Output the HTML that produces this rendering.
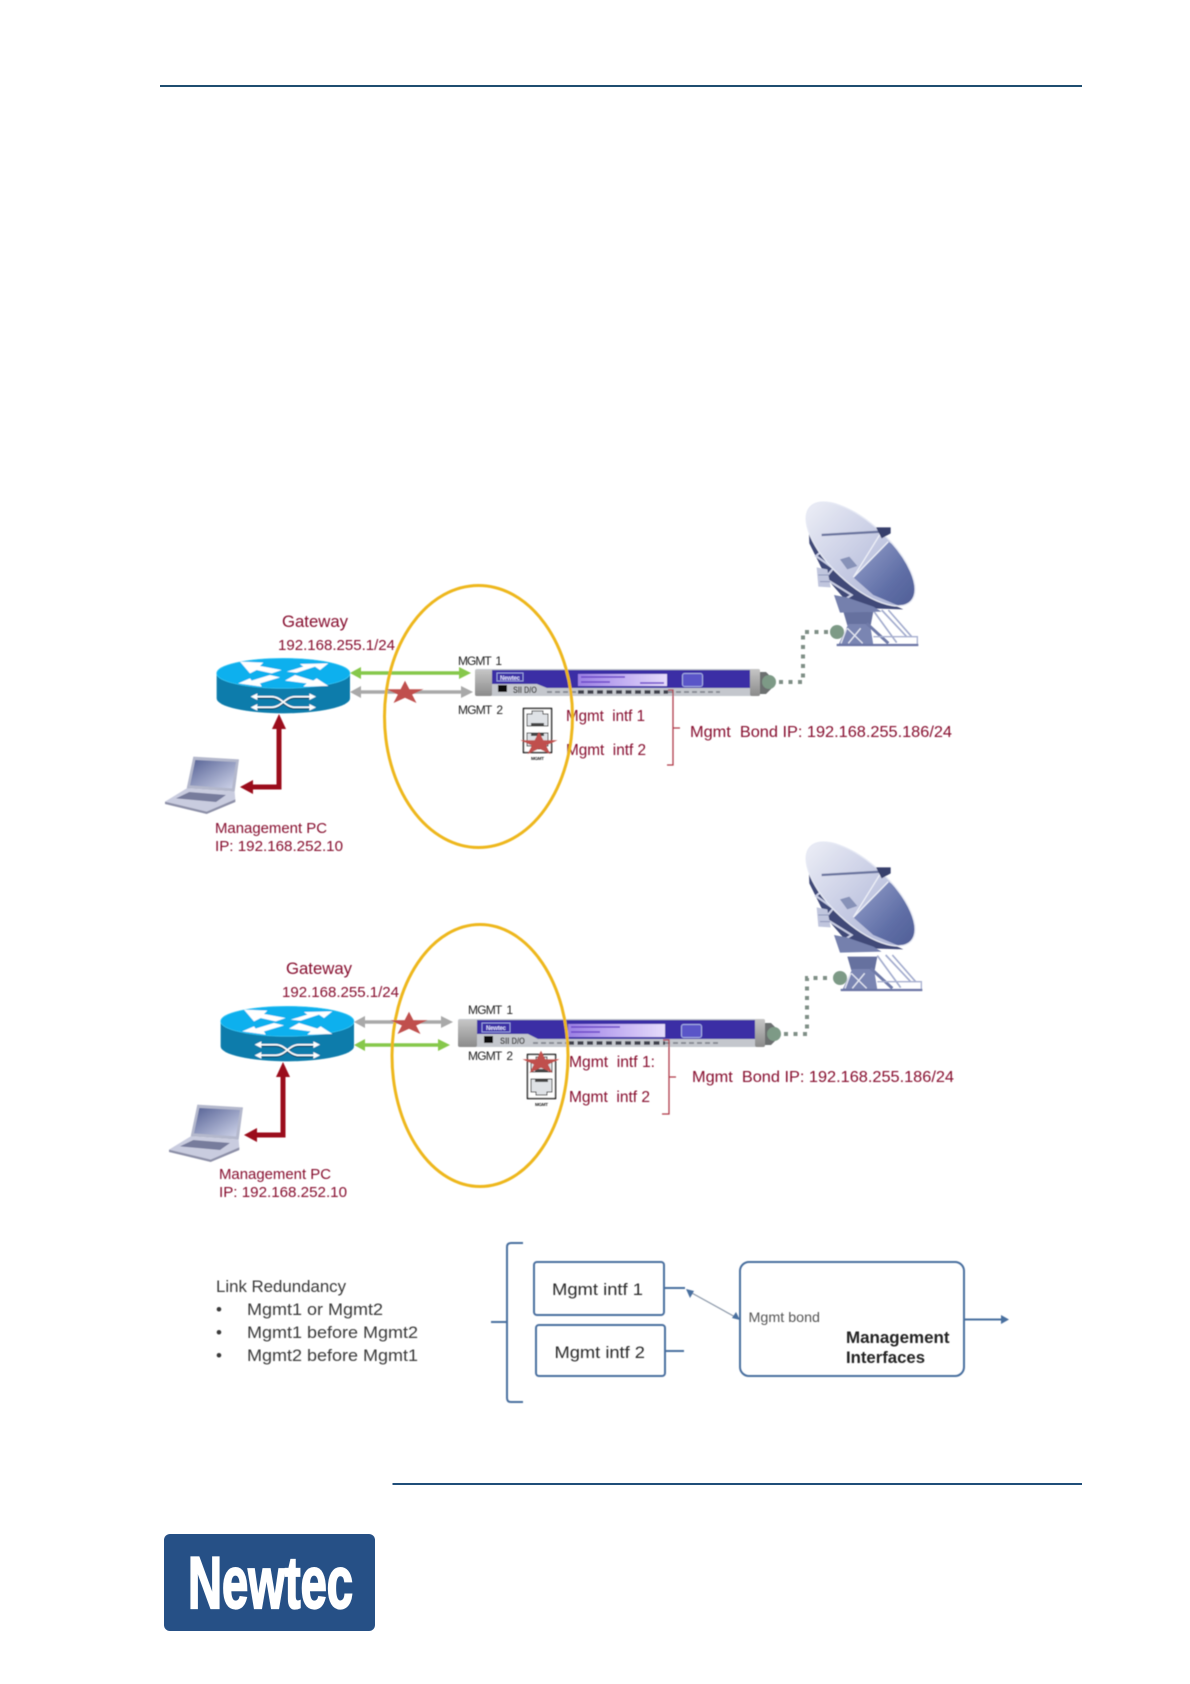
<!DOCTYPE html>
<html><head><meta charset="utf-8"><title>Management interfaces</title>
<style>
html,body{margin:0;padding:0;background:#fff}
svg{display:block;position:absolute;left:0;top:0}
text{font-family:"Liberation Sans",sans-serif}
.r{fill:#860c2e}
</style></head><body>
<svg width="1190" height="1684" viewBox="0 0 1190 1684" xmlns="http://www.w3.org/2000/svg">
<defs>
<filter id="b" x="-5%" y="-5%" width="110%" height="110%"><feGaussianBlur stdDeviation="0.4"/></filter>
<linearGradient id="dg" x1="0" y1="0" x2="1" y2="0"><stop offset="0" stop-color="#e9ebf5"/><stop offset=".5" stop-color="#c6cbe3"/><stop offset="1" stop-color="#aab2d4"/></linearGradient>
<linearGradient id="dk" x1="0" y1="0" x2="1" y2="1"><stop offset="0" stop-color="#96a1cb"/><stop offset=".6" stop-color="#5f6ea6"/><stop offset="1" stop-color="#4d5b93"/></linearGradient>
<linearGradient id="lg" x1="0" y1="0" x2="1" y2="1"><stop offset="0" stop-color="#566295"/><stop offset="1" stop-color="#cfd4ea"/></linearGradient>
<linearGradient id="cap" x1="0" y1="0" x2="0" y2="1"><stop offset="0" stop-color="#c5c5c5"/><stop offset="1" stop-color="#8b8b8b"/></linearGradient>
<linearGradient id="disp" x1="0" y1="0" x2="1" y2="0"><stop offset="0" stop-color="#9b80e4"/><stop offset=".5" stop-color="#c2aef2"/><stop offset="1" stop-color="#e6dcfb"/></linearGradient>
<clipPath id="dc"><ellipse cx="662" cy="222" rx="207" ry="90" transform="rotate(43 662 222)"/></clipPath>
<polygon id="star" points="0,-19.5 4.4,-6 18.5,-6 7.1,2.3 11.5,15.8 0,7.45 -11.5,15.8 -7.1,2.3 -18.5,-6 -4.4,-6" fill="#c0504d"/>

<g id="router" transform="translate(140 480) scale(.33333)">
  <path d="M230 580V655A200 45 0 0 0 630 655V580Z" fill="#0a7cab"/>
  <ellipse cx="430" cy="580" rx="200" ry="45" fill="#0bb0ee" stroke="#37c6f4" stroke-width="2"/>
  <g fill="#fff">
    <polygon points="300,545 370,548 360,558 425,570 395,580 350,570 330,580"/>
    <polygon points="440,575 490,560 480,552 565,550 540,570 525,560 470,578"/>
    <polygon points="295,610 330,595 335,602 390,585 420,592 360,610 365,620"/>
    <polygon points="435,602 465,585 520,602 530,595 565,618 490,620 500,610"/>
  </g>
  <path d="M350 655H395C425 655 435 687 465 687H510M350 687H395C425 687 435 655 465 655H510" stroke="#063d5a" stroke-width="3" fill="none"/>
  <path d="M345 650H395C425 650 435 682 465 682H515M345 682H395C425 682 435 650 465 650H515" stroke="#fff" stroke-width="5" fill="none"/>
  <g fill="#fff"><polygon points="332,650 352,640 352,660"/><polygon points="528,650 508,640 508,660"/><polygon points="332,682 352,672 352,692"/><polygon points="528,682 508,672 508,692"/></g>
</g>
<g id="laptop" transform="translate(140 480) scale(.33333)">
  <polygon points="160,830 297,838 284,935 140,925" fill="#b4b8cc"/>
  <polygon points="166,840 288,846 276,925 150,916" fill="url(#lg)"/>
  <polygon points="140,925 284,935 286,960 200,999 75,965" fill="#c9ccdf"/>
  <polygon points="75,965 200,995 286,958 286,966 200,1002 75,972" fill="#8d90a8"/>
  <polygon points="148,936 258,945 228,966 108,955" fill="#777c9c"/>
</g>
<g id="redarrow">
  <path d="M279 727V787H251" fill="none" stroke="#9b0a1e" stroke-width="5"/>
  <polygon points="279,714 286,729 272,729" fill="#9b0a1e"/>
  <polygon points="240,787 253,780 253,794" fill="#9b0a1e"/>
</g>
<g id="dishtop" transform="translate(640 480) scale(.33333)">
  <polygon points="505,100 508,190 560,295 612,355 690,385 790,388 640,320 540,200" fill="#3f4878"/>
  <path d="M515 165 555 205 528 228 580 265 555 295 635 345 615 358" stroke="#c7cce3" stroke-width="6" fill="none"/>
  <polygon points="530,262 562,268 572,322 535,320" fill="#c0c5dd"/>
  <path d="M535 285H568M540 305H570" stroke="#8e96ba" stroke-width="3"/>
  <polygon points="582,345 620,352 700,380 725,395 600,398" fill="#7480ad"/>
  <ellipse cx="662" cy="222" rx="207" ry="90" transform="rotate(43 662 222)" fill="url(#dg)"/>
  <g clip-path="url(#dc)">
    <polygon points="745,185 640,292 700,345 830,400 830,240" fill="url(#dk)"/>
  </g>
  <ellipse cx="662" cy="222" rx="207" ry="90" transform="rotate(43 662 222)" fill="none" stroke="#e6e9f4" stroke-width="4"/>
  <path d="M545 165 722 155" stroke="#6a749f" stroke-width="7"/>
  <path d="M722 160 640 292M745 185 640 292" stroke="#eef0f8" stroke-width="4" fill="none"/>
  <polygon points="708,142 752,142 752,160 725,175" fill="#39406c"/>
  <polygon points="600,238 628,230 652,258 622,268" fill="#8792b8"/>
</g>
<g id="dishbase" transform="translate(640 480) scale(.33333)">
  <polygon points="610,395 700,395 692,436 622,436" fill="#66719f"/>
  <polygon points="625,432 690,432 700,495 595,495" fill="#7a85b2"/>
  <path d="M620 445 603 490M622 445 668 490M662 445 625 490" stroke="#e4e7f2" stroke-width="4" fill="none"/>
  <path d="M680 430 745 490" stroke="#6f7aa8" stroke-width="9" fill="none"/>
  <path d="M700 392 770 488M725 390 800 470M745 390 815 470" stroke="#a3acce" stroke-width="5" fill="none"/>
  <path d="M700 470H832M832 468V495" stroke="#a8b0d0" stroke-width="4" fill="none"/>
  <path d="M590 495H835" stroke="#6b76a5" stroke-width="7"/>
</g>
<g id="rj">
  <rect x="0.5" y="0.5" width="28" height="44" fill="#fff" stroke="#111" stroke-width="1.4"/>
  <path d="M4 6H9V3H20V6H25V18H4Z" fill="#dfe2e6" stroke="#333" stroke-width="1"/>
  <rect x="8" y="15" width="13" height="3" fill="#444"/>
  <path d="M4 25H25V38H20V41H9V38H4Z" fill="#dfe2e6" stroke="#333" stroke-width="1"/>
  <rect x="8" y="25" width="13" height="3" fill="#444"/>
</g>
</defs>

<rect width="1190" height="1684" fill="#fff"/>
<rect x="160" y="85" width="922" height="2" fill="#1f4e70"/>
<rect x="392.5" y="1483" width="689.5" height="2" fill="#1f4e79"/>

<g filter="url(#b)">
<!-- Diagram 1 -->
<use href="#router"/><use href="#laptop"/><use href="#redarrow"/>
<text class="r" x="282" y="627" font-size="17" textLength="66" lengthAdjust="spacingAndGlyphs">Gateway</text>
<text class="r" x="278" y="650" font-size="15" textLength="117" lengthAdjust="spacingAndGlyphs">192.168.255.1/24</text>
<text class="r" x="215" y="833" font-size="15" textLength="112" lengthAdjust="spacingAndGlyphs">Management PC</text>
<text class="r" x="215" y="851" font-size="15" textLength="128" lengthAdjust="spacingAndGlyphs">IP: 192.168.252.10</text>

<path d="M358 673H465" stroke="#86c84b" stroke-width="3.5"/>
<polygon points="350,673 361,667 361,679" fill="#86c84b"/><polygon points="471,673 459,667 459,679" fill="#86c84b"/>
<path d="M358 692H467" stroke="#a9a9a9" stroke-width="3.5"/>
<polygon points="350,692 361,686 361,698" fill="#a9a9a9"/><polygon points="473,692 461,686 461,698" fill="#a9a9a9"/>
<text x="458" y="665" font-size="12" fill="#222" textLength="44" xml:space="preserve">MGMT  1</text>
<text x="458" y="714" font-size="12" fill="#222" textLength="45" xml:space="preserve">MGMT  2</text>

<!-- modem 1 -->
<rect x="475" y="669" width="285" height="27" rx="2" fill="#c4c7cd"/>
<rect x="475" y="670" width="17" height="26" rx="2" fill="url(#cap)"/>
<polygon points="492,670 750,670 750,688 547,688 537,684 492,684" fill="#3a2fa5"/>
<rect x="750" y="669" width="10" height="27" rx="2" fill="url(#cap)"/>
<path d="M760 672H766L772 678V688L766 694H760Z" fill="#6c6f70"/>
<rect x="497" y="673" width="26" height="8" fill="none" stroke="#9aa0e0" stroke-width="1"/>
<text x="500" y="680" font-size="6" font-weight="bold" fill="#dfe0ff" textLength="20">Newtec</text>
<rect x="498" y="685" width="9" height="7" fill="#111"/>
<text x="513" y="693" font-size="9" font-weight="bold" fill="#444" textLength="24" lengthAdjust="spacingAndGlyphs">SII D/O</text>
<rect x="578" y="674" width="89" height="12" fill="url(#disp)"/>
<path d="M581 677H625M581 682H610M640 683H664" stroke="#6a45c8" stroke-width="1.5"/>
<rect x="682.5" y="673.5" width="20" height="13" rx="2" fill="#5a55c8" stroke="#a9b0e6" stroke-width="1"/>
<path d="M547 692H578M668 692H720" stroke="#8a8d96" stroke-width="2" stroke-dasharray="5 3"/>
<path d="M578 692H668" stroke="#3c3f4c" stroke-width="3.5" stroke-dasharray="6 3.5"/>
<circle cx="769" cy="682" r="7" fill="#7d9a86"/>
<path d="M779 682H803V632H830" fill="none" stroke="#7f8f86" stroke-width="4" stroke-dasharray="4 5.5"/>
<use href="#dishbase"/><use href="#dishtop"/>
<circle cx="837" cy="632" r="7" fill="#7d9a86"/>
<use href="#rj" transform="translate(523 708)"/>
<text x="531" y="760" font-size="4.5" font-weight="bold" fill="#222" textLength="13">MGMT</text>
<text class="r" x="566" y="721" font-size="16" textLength="79" lengthAdjust="spacingAndGlyphs" xml:space="preserve">Mgmt  intf 1</text>
<text class="r" x="566" y="755" font-size="16" textLength="80" lengthAdjust="spacingAndGlyphs" xml:space="preserve">Mgmt  intf 2</text>
<path d="M668 690H673V765H667M673 728H680" fill="none" stroke="#b03a48" stroke-width="1.3"/>
<text class="r" x="690" y="737" font-size="16" textLength="262" lengthAdjust="spacingAndGlyphs" xml:space="preserve">Mgmt  Bond IP: 192.168.255.186/24</text>
<ellipse cx="478.5" cy="716.5" rx="94" ry="131" fill="none" stroke="#eeb71f" stroke-width="3"/>
<use href="#star" transform="translate(405 693) scale(1 .63)"/>
<use href="#star" transform="translate(539 744) scale(1 .63)"/>

<!-- Diagram 2 -->
<g transform="translate(4 348)"><use href="#router"/><use href="#laptop"/><use href="#redarrow"/></g>
<text class="r" x="286" y="974" font-size="17" textLength="66" lengthAdjust="spacingAndGlyphs">Gateway</text>
<text class="r" x="282" y="997" font-size="15" textLength="117" lengthAdjust="spacingAndGlyphs">192.168.255.1/24</text>
<text class="r" x="219" y="1179" font-size="15" textLength="112" lengthAdjust="spacingAndGlyphs">Management PC</text>
<text class="r" x="219" y="1197" font-size="15" textLength="128" lengthAdjust="spacingAndGlyphs">IP: 192.168.252.10</text>

<path d="M362 1022H447" stroke="#a9a9a9" stroke-width="3.5"/>
<polygon points="354,1022 365,1016 365,1028" fill="#a9a9a9"/><polygon points="453,1022 441,1016 441,1028" fill="#a9a9a9"/>
<path d="M362 1045H444" stroke="#86c84b" stroke-width="3.5"/>
<polygon points="354,1045 365,1039 365,1051" fill="#86c84b"/><polygon points="450,1045 438,1039 438,1051" fill="#86c84b"/>
<text x="468" y="1014" font-size="12" fill="#222" textLength="45" xml:space="preserve">MGMT  1</text>
<text x="468" y="1060" font-size="12" fill="#222" textLength="45" xml:space="preserve">MGMT  2</text>

<!-- modem 2 -->
<rect x="458" y="1019" width="307" height="28" rx="2" fill="#c4c7cd"/>
<rect x="458" y="1020" width="19" height="27" rx="2" fill="url(#cap)"/>
<polygon points="477,1020 755,1020 755,1039 538,1039 528,1034 477,1034" fill="#3a2fa5"/>
<rect x="755" y="1019" width="10" height="28" rx="2" fill="url(#cap)"/>
<path d="M765 1023H771L777 1029V1039L771 1045H765Z" fill="#6c6f70"/>
<rect x="482" y="1023" width="28" height="9" fill="none" stroke="#9aa0e0" stroke-width="1"/>
<text x="486" y="1030" font-size="6" font-weight="bold" fill="#dfe0ff" textLength="20">Newtec</text>
<rect x="484" y="1036" width="9" height="7" fill="#111"/>
<text x="500" y="1044" font-size="9" font-weight="bold" fill="#444" textLength="25" lengthAdjust="spacingAndGlyphs">SII D/O</text>
<rect x="568" y="1024" width="97" height="13" fill="url(#disp)"/>
<path d="M571 1027H620M571 1032H600" stroke="#6a45c8" stroke-width="1.5"/>
<rect x="681.5" y="1024.5" width="20" height="13" rx="2" fill="#5a55c8" stroke="#a9b0e6" stroke-width="1"/>
<path d="M533 1043H568M665 1043H720" stroke="#8a8d96" stroke-width="2" stroke-dasharray="5 3"/>
<path d="M568 1043H665" stroke="#3c3f4c" stroke-width="3.5" stroke-dasharray="6 3.5"/>
<circle cx="774" cy="1034" r="7" fill="#7d9a86"/>
<path d="M784 1034H807V978H830" fill="none" stroke="#7f8f86" stroke-width="4" stroke-dasharray="4 5.5"/>
<g transform="translate(4 345)"><use href="#dishbase"/></g>
<g transform="translate(0 340)"><use href="#dishtop"/></g>
<circle cx="840" cy="978" r="7" fill="#7d9a86"/>
<use href="#rj" transform="translate(527 1054)"/>
<text x="535" y="1106" font-size="4.5" font-weight="bold" fill="#222" textLength="13">MGMT</text>
<text class="r" x="569" y="1067" font-size="16" textLength="86" lengthAdjust="spacingAndGlyphs" xml:space="preserve">Mgmt  intf 1:</text>
<text class="r" x="569" y="1102" font-size="16" textLength="81" lengthAdjust="spacingAndGlyphs" xml:space="preserve">Mgmt  intf 2</text>
<path d="M663 1040H669V1114H662M669 1077H676" fill="none" stroke="#b03a48" stroke-width="1.3"/>
<text class="r" x="692" y="1082" font-size="16" textLength="262" lengthAdjust="spacingAndGlyphs" xml:space="preserve">Mgmt  Bond IP: 192.168.255.186/24</text>
<ellipse cx="480" cy="1055.5" rx="88" ry="131" fill="none" stroke="#eeb71f" stroke-width="3"/>
<use href="#star" transform="translate(409 1024) scale(1 .63)"/>
<use href="#star" transform="translate(541 1063) scale(1 .63)"/>

<!-- Diagram 3 -->
<g fill="#3a3a3a">
<text x="216" y="1292" font-size="17" textLength="130" lengthAdjust="spacingAndGlyphs">Link Redundancy</text>
<text x="216" y="1315" font-size="17">•</text><text x="216" y="1338" font-size="17">•</text><text x="216" y="1361" font-size="17">•</text>
<text x="247" y="1315" font-size="17" textLength="136" lengthAdjust="spacingAndGlyphs">Mgmt1 or Mgmt2</text>
<text x="247" y="1338" font-size="17" textLength="171" lengthAdjust="spacingAndGlyphs">Mgmt1 before Mgmt2</text>
<text x="247" y="1361" font-size="17" textLength="171" lengthAdjust="spacingAndGlyphs">Mgmt2 before Mgmt1</text>
</g>
<g fill="none" stroke="#4a6f9f" stroke-width="2">
<path d="M523 1243H511Q507 1243 507 1247V1398Q507 1402 511 1402H523M507 1322H491"/>
<rect x="534" y="1262" width="130" height="53" rx="3"/>
<rect x="536" y="1325" width="129" height="51" rx="3"/>
<path d="M664 1288H685M665 1351H684"/>
<rect x="740" y="1262" width="224" height="114" rx="9"/>
<path d="M964 1319.5H1004"/>
</g>
<path d="M690 1292 737 1318" stroke="#8a97a8" stroke-width="1.2"/>
<polygon points="686,1289 694,1291 690,1298" fill="#4a6f9f"/><polygon points="740,1320 732,1318 736,1312" fill="#4a6f9f"/>
<polygon points="1009,1319.5 1001,1315 1001,1324" fill="#4a6f9f"/>
<g fill="#2c2c2c">
<text x="552" y="1295" font-size="17" textLength="91" lengthAdjust="spacingAndGlyphs">Mgmt intf 1</text>
<text x="554.5" y="1358" font-size="17" textLength="90.5" lengthAdjust="spacingAndGlyphs">Mgmt intf 2</text>
<text x="748.5" y="1322" font-size="14" fill="#555" textLength="71.5" lengthAdjust="spacingAndGlyphs">Mgmt bond</text>
<text x="846" y="1343" font-size="16.5" font-weight="bold" fill="#222" textLength="103.5" lengthAdjust="spacingAndGlyphs">Management</text>
<text x="846" y="1363" font-size="16.5" font-weight="bold" fill="#222" textLength="79" lengthAdjust="spacingAndGlyphs">Interfaces</text>
</g>
</g>

<!-- Logo -->
<rect x="164" y="1534" width="211" height="97" rx="6" fill="#265086"/>
<text x="188" y="1608" font-size="73" font-weight="bold" fill="#fff" stroke="#fff" stroke-width="2.2" textLength="165" lengthAdjust="spacingAndGlyphs">Newtec</text>
</svg>
</body></html>
